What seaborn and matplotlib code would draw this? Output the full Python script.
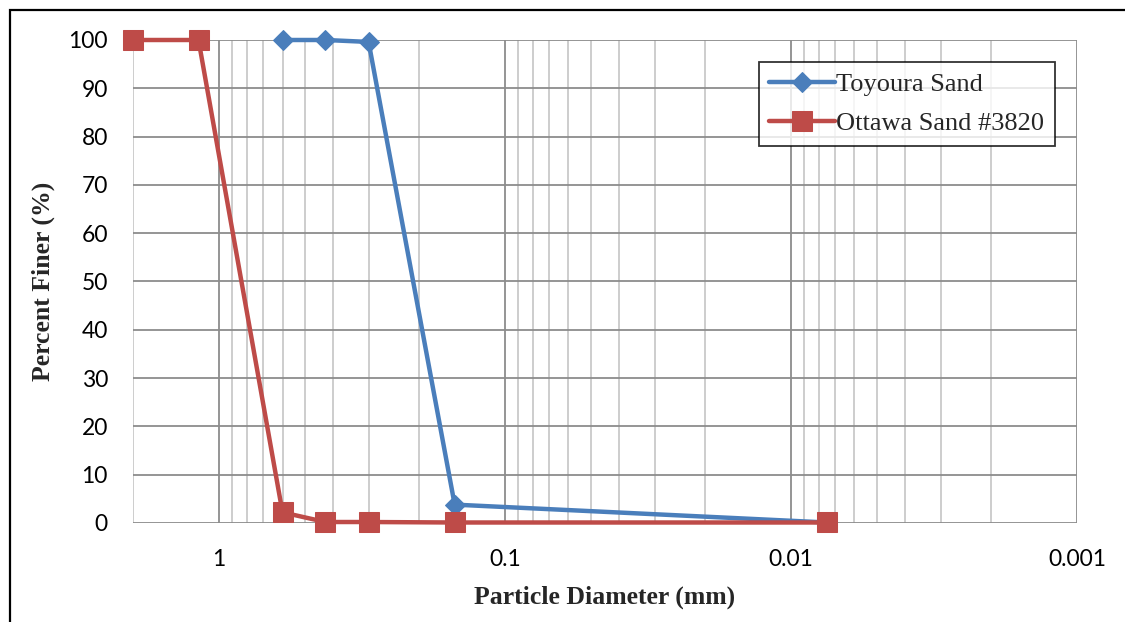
import matplotlib
matplotlib.use("Agg")
import matplotlib.pyplot as plt
import matplotlib.ticker as mticker
from matplotlib.patches import Rectangle
import pandas as pd
import seaborn as sns

# Grain size distribution data (sieve / hydrometer diameters in mm)
toyoura_d = [0.6, 0.425, 0.3, 0.15, 0.0075]
toyoura_pf = [100, 100, 99.6, 3.8, 0.1]
ottawa_d = [2.0, 1.18, 0.6, 0.425, 0.3, 0.15, 0.0075]
ottawa_pf = [100, 100, 2.2, 0.2, 0.2, 0.1, 0.1]
series_names = ["Toyoura Sand", "Ottawa Sand #3820"]
x_ticks = [1, 0.1, 0.01, 0.001]
x_tick_labels = ["1", "0.1", "0.01", "0.001"]
y_ticks = list(range(0, 101, 10))

df = pd.concat([
    pd.DataFrame({"d": toyoura_d, "pf": toyoura_pf, "sample": series_names[0]}),
    pd.DataFrame({"d": ottawa_d, "pf": ottawa_pf, "sample": series_names[1]}),
], ignore_index=True)

sns.set_theme(style="white")
plt.rcParams["font.family"] = ["Lato", "DejaVu Sans"]

fig = plt.figure(figsize=(11.25, 6.22), dpi=100)
ax = fig.add_axes([0.1182, 0.1592, 0.8391, 0.7765])

palette = {series_names[0]: "#4A7EBB", series_names[1]: "#BE4B48"}
markers = {series_names[0]: "D", series_names[1]: "s"}
sizes = {series_names[0]: 10, series_names[1]: 14.5}

for i, name in enumerate(series_names):
    sub = df[df["sample"] == name]
    sns.lineplot(data=sub, x="d", y="pf", ax=ax, sort=False, estimator=None,
                 color=palette[name], linewidth=3.2, marker=markers[name],
                 markersize=sizes[name], markeredgecolor=palette[name],
                 label=name, clip_on=False, zorder=3 + i)

ax.set_xscale("log")
ax.set_xlim(2.0, 0.001)
ax.set_ylim(0, 100)

ax.xaxis.set_major_locator(mticker.FixedLocator(x_ticks))
ax.xaxis.set_major_formatter(mticker.FixedFormatter(x_tick_labels))
ax.xaxis.set_minor_locator(mticker.LogLocator(base=10, subs=range(2, 10), numticks=20))
ax.xaxis.set_minor_formatter(mticker.NullFormatter())
ax.set_yticks(y_ticks)

ax.grid(True, which="major", axis="both", color="#8c8c8c", linewidth=1.3)
ax.grid(True, which="minor", axis="x", color="#c0c0c0", linewidth=1.1)
ax.set_axisbelow(True)
for s in ax.spines.values():
    s.set_visible(False)

ax.tick_params(axis="both", which="both", length=0)
ax.tick_params(axis="x", pad=19, labelsize=16.5)
ax.tick_params(axis="y", pad=18, labelsize=16.5)
for lbl in ax.get_xticklabels() + ax.get_yticklabels():
    lbl.set_color("black")

ax.set_xlabel("Particle Diameter (mm)", fontsize=18.5, fontweight="bold",
              family="Liberation Serif", labelpad=11)
ax.set_ylabel("Percent Finer (%)", fontsize=18.5, fontweight="bold",
              family="Liberation Serif", labelpad=10)

leg = ax.legend(loc="upper right", bbox_to_anchor=(0.9767, 0.9545),
                prop={"family": "Liberation Serif", "size": 19},
                frameon=True, fancybox=False, shadow=False, handlelength=2.5,
                handletextpad=0.05, borderpad=0.4, labelspacing=0.6,
                borderaxespad=0)
leg.get_frame().set_edgecolor("black")
leg.get_frame().set_linewidth(1.3)

# Outer frame around the chart
fig.patches.append(Rectangle((10 / 1125, -0.05), 1.1, 1 - 10 / 622 + 0.05,
                             transform=fig.transFigure, fill=False,
                             edgecolor="black", linewidth=1.6))

fig.savefig("out.png", dpi=100)
